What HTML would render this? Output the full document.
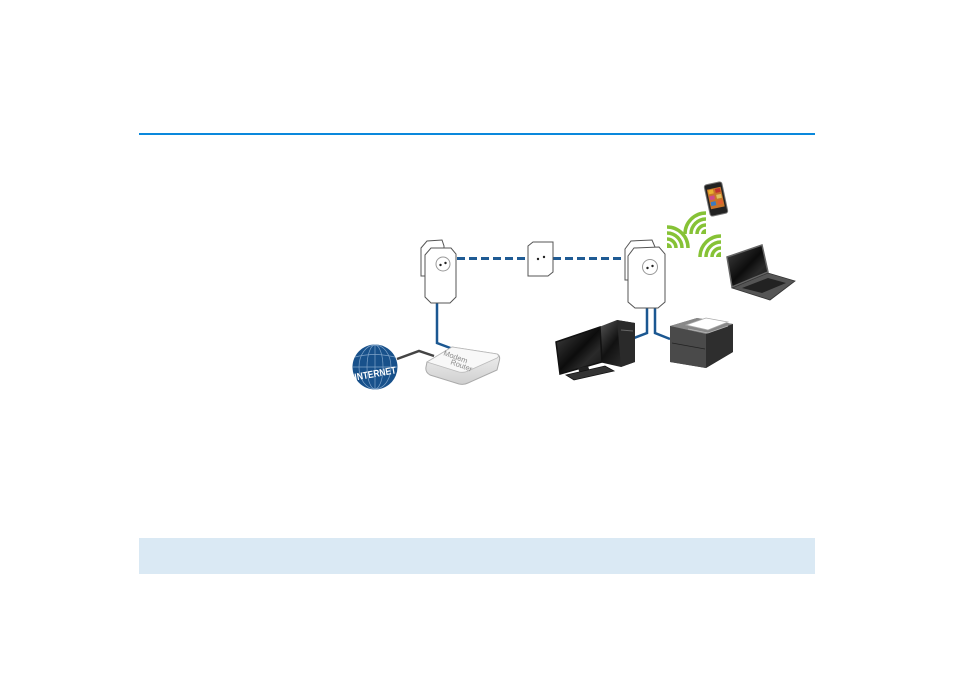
<!DOCTYPE html>
<html><head><meta charset="utf-8"><style>
html,body{margin:0;padding:0;background:#fff;}
body{width:954px;height:674px;position:relative;overflow:hidden;font-family:"Liberation Sans",sans-serif;}
.topline{position:absolute;left:139px;top:133px;width:676px;height:2px;background:#0a88dc;}
.bar{position:absolute;left:139px;top:538px;width:676px;height:36px;background:#dae9f4;}
svg{position:absolute;left:0;top:0;}
</style></head><body>
<div class="topline"></div>
<div class="bar"></div>
<svg width="954" height="674" viewBox="0 0 954 674" xmlns="http://www.w3.org/2000/svg">
<defs>
<linearGradient id="dark" x1="0" y1="0" x2="1" y2="1">
<stop offset="0" stop-color="#5a5a5a"/><stop offset="0.45" stop-color="#111"/><stop offset="1" stop-color="#3a3a3a"/></linearGradient>
<linearGradient id="scr" x1="0" y1="0" x2="1" y2="1">
<stop offset="0" stop-color="#444"/><stop offset="0.5" stop-color="#0c0c0c"/><stop offset="0.7" stop-color="#2a2a2a"/><stop offset="1" stop-color="#111"/></linearGradient>
<linearGradient id="gray" x1="0" y1="0" x2="0" y2="1">
<stop offset="0" stop-color="#777"/><stop offset="1" stop-color="#333"/></linearGradient>
<linearGradient id="rt" x1="0" y1="0" x2="0" y2="1">
<stop offset="0" stop-color="#f4f4f4"/><stop offset="1" stop-color="#cfcfcf"/></linearGradient>
</defs>

<!-- cables -->
<g fill="none" stroke="#1b5791" stroke-width="2.5">
<path d="M437,303 L437,343 L453,349"/>
<path d="M647,308 L647,333 L634,338"/>
<path d="M655,308 L655,333 L670,339"/>
</g>
<path d="M397,359 L419,351 L434,356" fill="none" stroke="#444" stroke-width="2.5"/>
<g stroke="#1f5b94" stroke-width="3" stroke-dasharray="8 4">
<line x1="457" y1="258.5" x2="528" y2="258.5"/>
<line x1="553" y1="258.5" x2="628" y2="258.5"/>
</g>

<!-- left adapter -->
<path d="M421,248 L427,241 L442,240 L444,246 L444,276 L421,276 Z" fill="#fff" stroke="#555" stroke-width="1"/>
<path d="M425,255 L431,248 L451,248 L456,254 L456,297 L450,303 L431,303 L425,297 Z" fill="#fff" stroke="#555" stroke-width="1"/>
<circle cx="443" cy="264" r="7" fill="#fff" stroke="#999" stroke-width="1"/>
<circle cx="440.5" cy="265" r="1.2" fill="#222"/><circle cx="445.5" cy="263" r="1.2" fill="#222"/>

<!-- wall socket -->
<path d="M528,246 L533,242 L553,242 L553,272 L548,276 L528,276 Z" fill="#fff" stroke="#555" stroke-width="1"/>
<circle cx="538" cy="259" r="1.2" fill="#222"/><circle cx="544" cy="257" r="1.2" fill="#222"/>

<!-- right adapter -->
<path d="M625,249 L631,241 L652,240 L655,247 L655,280 L625,280 Z" fill="#fff" stroke="#555" stroke-width="1"/>
<path d="M628,256 L634,248 L659,247 L665,254 L665,302 L658,308 L635,308 L628,302 Z" fill="#fff" stroke="#555" stroke-width="1"/>
<circle cx="650" cy="267" r="7.5" fill="#fff" stroke="#999" stroke-width="1"/>
<circle cx="647.5" cy="268" r="1.2" fill="#222"/><circle cx="652.5" cy="266" r="1.2" fill="#222"/>

<!-- globe -->
<circle cx="375" cy="367" r="22.5" fill="#18518b"/>
<g fill="none" stroke="#7fa3c8" stroke-width="0.7">
<ellipse cx="375" cy="367" rx="8" ry="22"/>
<ellipse cx="375" cy="367" rx="16" ry="22"/>
<line x1="375" y1="345" x2="375" y2="389"/>
<path d="M355,357 Q375,352 395,357"/>
<path d="M353,367 L397,367"/>
</g>
<text x="354" y="377" transform="rotate(-10 375 372)" textLength="42" lengthAdjust="spacingAndGlyphs" font-family="Liberation Sans, sans-serif" font-weight="bold" font-size="10" fill="#fff">INTERNET</text>

<!-- router -->
<path d="M427,362 L452,347 L497,354 Q501,356 499,362 L497,370 L468,383 Q464,385 459,384 L430,375 Q425,372 426,367 Z" fill="url(#rt)" stroke="#aaa" stroke-width="1"/>
<path d="M427,362 L452,347 L497,354 Q500,356 497,358 L468,371 Q464,373 459,372 Z" fill="#f8f8f8" stroke="#bbb" stroke-width="0.8"/>
<text x="0" y="0" transform="translate(443,355) rotate(20)" font-family="Liberation Sans, sans-serif" font-size="7.5" fill="#888">Modem</text>
<text x="0" y="0" transform="translate(450,364) rotate(20)" font-family="Liberation Sans, sans-serif" font-size="7.5" fill="#888">Router</text>

<!-- computer tower -->
<path d="M599,327 L617,320 L635,323 L635,362 L621,367 L599,362 Z" fill="url(#dark)"/>
<path d="M617,320 L635,323 L635,362 L621,367 Z" fill="#2a2a2a"/>
<path d="M621,330 L633,331" stroke="#666" stroke-width="1"/>
<!-- monitor -->
<path d="M556,342 L600,327 L602,362 L560,374 Z" fill="url(#scr)" stroke="#111" stroke-width="1.5"/>
<path d="M578,368 L580,374 L590,372 L588,366 Z" fill="#222"/>
<!-- keyboard -->
<path d="M566,375 L605,366 L614,371 L574,380 Z" fill="#333" stroke="#111" stroke-width="0.8"/>

<!-- printer -->
<path d="M670,326 L697,318 L733,324 L733,352 L706,368 L670,362 Z" fill="url(#gray)"/>
<path d="M670,326 L697,318 L733,324 L706,334 Z" fill="#888"/>
<path d="M706,334 L733,324 L733,352 L706,368 Z" fill="#2e2e2e"/>
<path d="M670,326 L706,334 L706,368 L670,362 Z" fill="#4a4a4a"/>
<path d="M686,325 L706,318 L728,322 L708,330 Z" fill="#fff" stroke="#aaa" stroke-width="0.7"/>
<path d="M688,329 L708,333 L728,326" fill="none" stroke="#bbb" stroke-width="0.7"/>
<path d="M672,343 L705,349" stroke="#222" stroke-width="0.8"/>

<!-- laptop -->
<path d="M727,257 L762,245 L768,272 L732,287 Z" fill="url(#scr)" stroke="#666" stroke-width="1.5"/>
<path d="M732,288 L768,273 L795,281 L770,300 Z" fill="#555" stroke="#333" stroke-width="0.8"/>
<path d="M742,288 L768,278 L786,283 L762,293 Z" fill="#222"/>

<!-- phone -->
<g transform="translate(716,199) rotate(-12)">
<rect x="-9" y="-16" width="18" height="32" rx="2.5" fill="#222" stroke="#777" stroke-width="1"/>
<rect x="-7" y="-11" width="14" height="20" fill="#c8742a"/>
<rect x="-6" y="-10" width="5" height="4" fill="#e8b030"/><rect x="1" y="-10" width="5" height="4" fill="#c03030"/>
<rect x="-6" y="-4" width="5" height="4" fill="#d04a8a"/><rect x="1" y="-4" width="5" height="4" fill="#e0c060"/>
<rect x="-6" y="2" width="5" height="4" fill="#3a7ac0"/><rect x="1" y="2" width="5" height="4" fill="#e06030"/>
</g>

<!-- wifi -->
<g fill="none" stroke="#86c236" stroke-width="3.5">
<!-- group 1: center bottom-left -->
<path d="M667,239 A9,9 0 0 1 676,248"/>
<path d="M667,233 A15,15 0 0 1 682,248"/>
<path d="M667,227 A21,21 0 0 1 688,248"/>
<!-- group 2 -->
<path d="M697,234 A9,9 0 0 1 706,225"/>
<path d="M691,234 A15,15 0 0 1 706,219"/>
<path d="M685,234 A21,21 0 0 1 706,213"/>
<!-- group 3 -->
<path d="M712,257 A9,9 0 0 1 721,248"/>
<path d="M706,257 A15,15 0 0 1 721,242"/>
<path d="M700,257 A21,21 0 0 1 721,236"/>
</g>
<g fill="#86c236">
<path d="M667,248 L667,243 A5,5 0 0 1 672,248 Z"/>
<path d="M706,234 L701,234 A5,5 0 0 1 706,229 Z"/>
<path d="M721,257 L716,257 A5,5 0 0 1 721,252 Z"/>
</g>
</svg>
</body></html>
